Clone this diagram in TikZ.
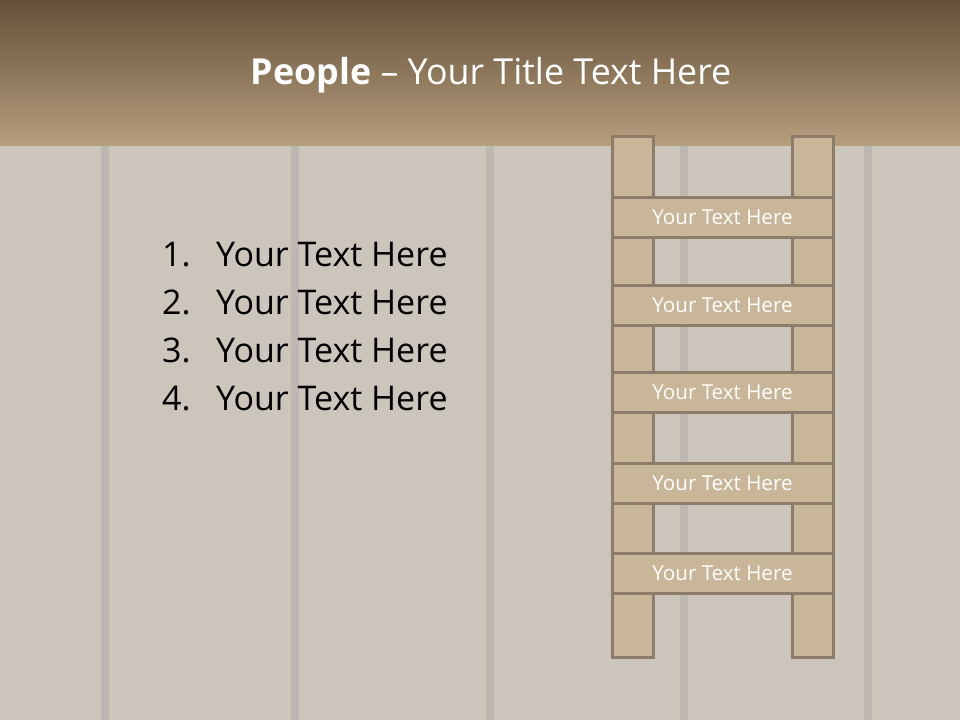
\documentclass[tikz,border=0pt]{standalone}
\usepackage{fontspec}
\setmainfont{Open Sans}
\usetikzlibrary{positioning}

\definecolor{woodbg}{RGB}{204,197,187}
\definecolor{woodseam}{RGB}{188,183,176}
\definecolor{bandtop}{RGB}{100,80,56}
\definecolor{bandbot}{RGB}{182,158,126}
\definecolor{ladderfill}{RGB}{201,181,152}
\definecolor{ladderline}{RGB}{140,124,106}

\tikzset{
	rail/.style={draw=ladderline, fill=ladderfill, line width=3pt},
	rung/.style={draw=ladderline, fill=ladderfill, line width=3pt, minimum width=221pt, minimum height=40pt, inner sep=0pt, text=white, font=\fontsize{20.6}{24}\selectfont},
	listnum/.style={anchor=base west, inner sep=0pt, font=\fontsize{34}{40}\selectfont},
}

\begin{document}
\begin{tikzpicture}[x=1pt, y=-1pt]
		\useasboundingbox (0,0) rectangle (960,720);

		\fill [woodbg] (0,0) rectangle (960,720);
		\foreach \sx in {105, 295, 490, 684, 868}
			\fill [woodseam] (\sx-4,145) rectangle (\sx+4,720);

		\shade [top color=bandtop, bottom color=bandbot] (0,0) rectangle (960,145);

		\node [text=white, font=\fontsize{35.8}{42}\selectfont] (title) at (491,75) {\textbf{People} – Your Title Text Here};

		\foreach \i/\yy in {1/266, 2/314, 3/362, 4/410} {
			\node [listnum] (num\i) at (162,\yy) {\i.};
			\node [listnum] (item\i) at (216,\yy) {Your Text Here};
		}

		\draw [rail] (612,136) rectangle (653,657);
		\draw [rail] (792,136) rectangle (833,657);

		\foreach \i/\yy in {1/217, 2/305.5, 3/392, 4/483.5, 5/573}
			\node [rung] (rung\i) at (722.5,\yy) {Your Text Here};
	\end{tikzpicture}
\end{document}
